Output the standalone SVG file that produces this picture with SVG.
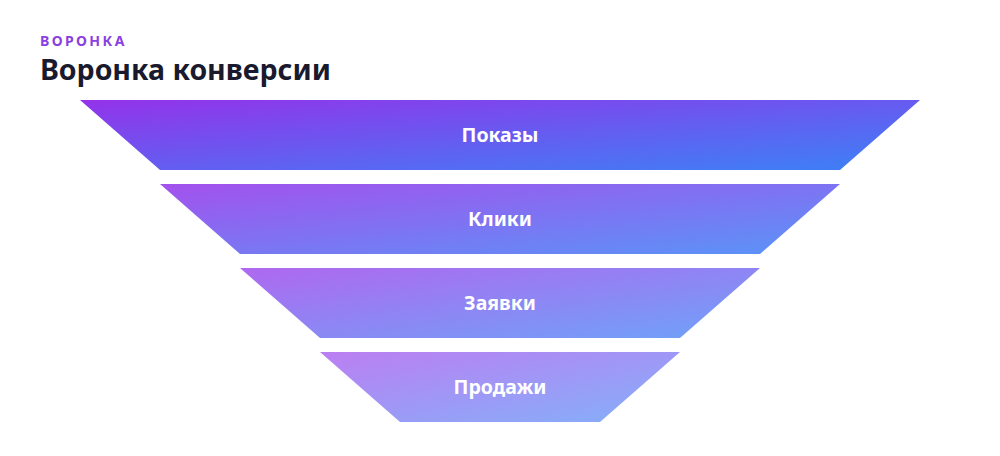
<svg xmlns="http://www.w3.org/2000/svg" width="1000" height="456" viewBox="0 0 1000 456">
<defs>
<linearGradient id="g" x1="0" y1="0" x2="1" y2="1">
<stop offset="0" stop-color="#9333ea"/>
<stop offset="1" stop-color="#3b82f6"/>
</linearGradient>
<style>
.eyebrow{font-family:"Noto Sans","Open Sans",sans-serif;font-size:14px;font-weight:700;letter-spacing:2.4px;fill:#8a3fe0}
.title{font-family:"Noto Sans","Open Sans",sans-serif;font-size:28.5px;font-weight:700;fill:#1a1a2e}
.layer{fill:url(#g)}
.lbl{font-family:"Noto Sans","Open Sans",sans-serif;font-size:19.5px;font-weight:700;fill:#ffffff;text-anchor:middle;dominant-baseline:central}
</style>
</defs>
<rect width="1000" height="456" fill="#ffffff"/>
<text class="eyebrow" x="40" y="46">ВОРОНКА</text>
<text class="title" x="40" y="80">Воронка конверсии</text>
<g id="node-pokazy">
<polygon class="layer" points="80,100 920,100 840,170 160,170"/>
<text class="lbl" x="500" y="134">Показы</text>
</g>
<g id="node-kliki">
<polygon class="layer" opacity="0.85" points="160,184 840,184 760,254 240,254"/>
<text class="lbl" x="500" y="218">Клики</text>
</g>
<g id="node-zayavki">
<polygon class="layer" opacity="0.74" points="240,268 760,268 680,338 320,338"/>
<text class="lbl" x="500" y="302">Заявки</text>
</g>
<g id="node-prodazhi">
<polygon class="layer" opacity="0.63" points="320,352 680,352 600,422 400,422"/>
<text class="lbl" x="500" y="386">Продажи</text>
</g>
<g id="connectors"></g>
</svg>
